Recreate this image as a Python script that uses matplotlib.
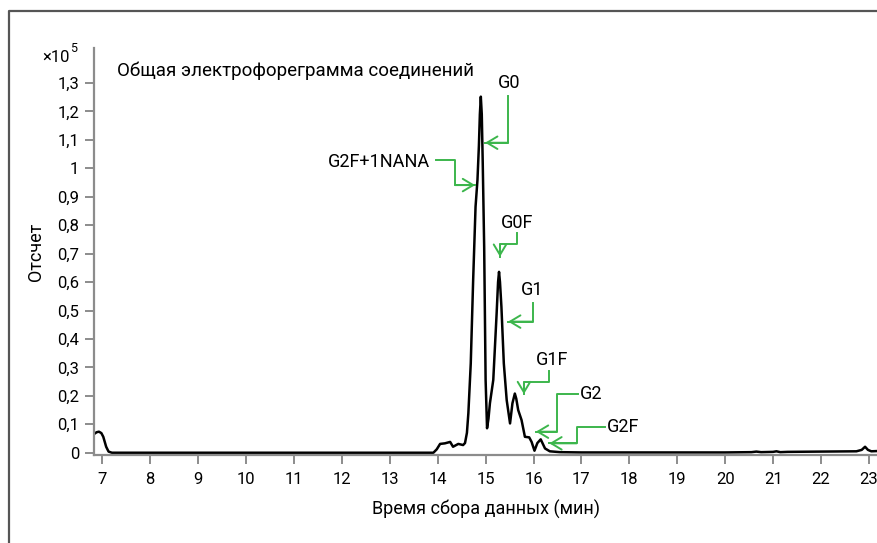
import matplotlib
matplotlib.use('Agg')
import matplotlib.pyplot as plt
from matplotlib.lines import Line2D

plt.rcParams['font.family'] = ['Roboto', 'DejaVu Sans']

# trace: time (min), counts (x10^5)
time = [6.83, 6.88, 6.93, 6.98, 7.02, 7.08, 7.13, 7.20, 8.0, 10.0, 12.0, 13.5, 13.91,
        13.98, 14.05, 14.15, 14.26, 14.32, 14.43, 14.53, 14.57, 14.61, 14.64, 14.69,
        14.74, 14.79, 14.83, 14.86, 14.88, 14.90, 14.92, 14.94, 14.97, 15.00, 15.03,
        15.06, 15.09, 15.16, 15.23, 15.26, 15.28, 15.30, 15.33, 15.38, 15.44, 15.51,
        15.56, 15.61, 15.64, 15.68, 15.75, 15.82, 15.91, 15.96, 16.02, 16.08, 16.15,
        16.24, 16.34, 16.55, 17.0, 18.0, 19.0, 20.0, 20.55, 20.65, 20.75, 21.0, 21.07,
        21.15, 21.3, 22.0, 22.74, 22.85, 22.92, 22.98, 23.05, 23.19]
counts = [0.066, 0.072, 0.074, 0.069, 0.056, 0.021, 0.004, 0.0, 0.0, 0.0, 0.0, 0.0, 0.0,
          0.012, 0.031, 0.033, 0.038, 0.021, 0.031, 0.027, 0.034, 0.070, 0.139, 0.314,
          0.607, 0.865, 0.959, 1.080, 1.190, 1.252, 1.190, 1.020, 0.724, 0.256, 0.086,
          0.120, 0.174, 0.256, 0.490, 0.600, 0.636, 0.600, 0.513, 0.314, 0.185, 0.103,
          0.174, 0.208, 0.190, 0.150, 0.115, 0.056, 0.054, 0.038, 0.007, 0.034, 0.047,
          0.015, 0.005, 0.002, 0.001, 0.001, 0.001, 0.001, 0.002, 0.004, 0.002, 0.003,
          0.005, 0.002, 0.003, 0.004, 0.005, 0.010, 0.021, 0.010, 0.005, 0.006]

x_ticks = list(range(7, 24))
y_ticks = [0, 0.1, 0.2, 0.3, 0.4, 0.5, 0.6, 0.7, 0.8, 0.9, 1.0, 1.1, 1.2, 1.3]
y_labels = ['0', '0,1', '0,2', '0,3', '0,4', '0,5', '0,6', '0,7', '0,8', '0,9',
            '1', '1,1', '1,2', '1,3']

peak_names = ['G0', 'G2F+1NANA', 'G0F', 'G1', 'G1F', 'G2', 'G2F']

green = '#3cb64c'
W, H = 878, 543

fig = plt.figure(figsize=(W / 100, H / 100), dpi=100)
ax = fig.add_axes([93.7 / W, (H - 455) / H, (W - 93.7) / W, (455 - 48.3) / H])

ax.plot(time, counts, color='black', lw=1.8, solid_joinstyle='round')

ax.set_xlim(6.82, 23.19)
ax.set_ylim(-0.008, 1.422)
ax.set_xticks(x_ticks)
ax.set_yticks(y_ticks)
ax.set_yticklabels(y_labels)

for s in ['top', 'right']:
    ax.spines[s].set_visible(False)
for s in ['left', 'bottom']:
    ax.spines[s].set_color('#8c8c8c')
    ax.spines[s].set_linewidth(1.6)
ax.tick_params(axis='both', direction='out', length=6.5, width=1.4,
               color='#8c8c8c', labelsize=12)
ax.tick_params(axis='y', pad=4)
ax.tick_params(axis='x', pad=6)

ax.set_xlabel('Время сбора данных (мин)', fontsize=13, labelpad=9)
ax.set_ylabel('Отсчет', fontsize=13, labelpad=9)

# multiplier and title
fig.text(70 / W, 1 - 62 / H, '×10', fontsize=12, ha='right', va='baseline')
fig.text(70.5 / W, 1 - 52 / H, '5', fontsize=9, ha='left', va='baseline')
fig.text(117 / W, 1 - 76 / H, 'Общая электрофореграмма соединений',
         fontsize=13.5, ha='left', va='baseline')

# annotation layout: label position, alignment, leader path (last point = arrow tip)
labels = [
    ((15.49, 1.299), 'center', [(15.47, 1.254), (15.47, 1.090), (14.99, 1.090)]),
    ((13.84, 1.023), 'right', [(13.96, 1.029), (14.36, 1.029), (14.36, 0.941), (14.78, 0.941)]),
    ((15.66, 0.807), 'center', [(15.65, 0.771), (15.65, 0.733), (15.30, 0.733), (15.30, 0.689)]),
    ((15.98, 0.572), 'center', [(15.98, 0.525), (15.98, 0.461), (15.47, 0.461)]),
    ((16.38, 0.326), 'center', [(16.32, 0.288), (16.32, 0.248), (15.80, 0.248), (15.80, 0.206)]),
    ((16.97, 0.206), 'left', [(16.93, 0.206), (16.48, 0.206), (16.48, 0.074), (16.05, 0.074)]),
    ((17.53, 0.091), 'left', [(17.49, 0.091), (16.90, 0.091), (16.90, 0.033), (16.33, 0.033)]),
]
for name, (pos, ha, path) in zip(peak_names, labels):
    ax.text(pos[0], pos[1], name, fontsize=13, ha=ha, va='center')
    px = [p[0] for p in path]
    py = [p[1] for p in path]
    ax.plot(px, py, color=green, lw=1.4)
    ax.annotate('', xy=path[-1], xytext=path[-2],
                arrowprops=dict(arrowstyle='->,head_length=0.75,head_width=0.45',
                                color=green, lw=1.4, shrinkA=0, shrinkB=0,
                                mutation_scale=10))

# outer frame (left and top only)
fig.add_artist(Line2D([8.5 / W, 8.5 / W, 1], [0, 1 - 11 / H, 1 - 11 / H],
                      color='#555555', lw=1.6, transform=fig.transFigure))

fig.savefig('out.png', dpi=100)
